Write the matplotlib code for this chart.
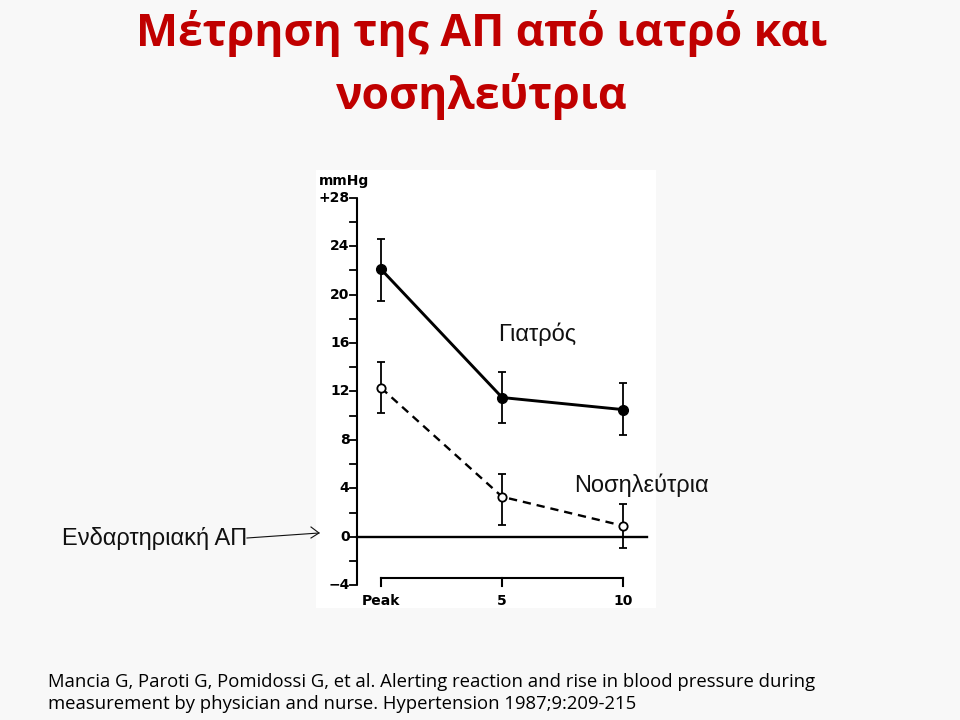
import matplotlib.pyplot as plt

# data (rise in BP, mmHg)
times = [0, 5, 10]
time_labels = ["Peak", "5", "10"]
doctor = [22.1, 11.5, 10.5]
doctor_lo = [19.5, 9.4, 8.4]
doctor_hi = [24.6, 13.6, 12.7]
nurse = [12.3, 3.3, 0.9]
nurse_lo = [10.2, 1.0, -0.9]
nurse_hi = [14.4, 5.2, 2.7]
y_ticks = list(range(-4, 29, 2))
y_labels = {-4: "\u22124", 0: "0", 4: "4", 8: "8", 12: "12", 16: "16",
            20: "20", 24: "24", 28: "+28"}

title = "Μέτρηση της ΑΠ από ιατρό και\nνοσηλεύτρια"
citation = ("Mancia G, Paroti G, Pomidossi G, et al. Alerting reaction and rise in blood pressure during\n"
            "measurement by physician and nurse. Hypertension 1987;9:209-215")

W, H = 960, 720
fig = plt.figure(figsize=(9.6, 7.2), dpi=100)
fig.patch.set_facecolor("#f8f8f8")

# slide text
fig.text(482 / W, 1 - 65 / H, title, ha="center", va="center", color="#c00000",
         fontsize=32, fontweight="bold", family="Open Sans", linespacing=1.47)
fig.text(48 / W, 1 - 693 / H, citation, ha="left", va="center", color="black",
         fontsize=13.3, family="Open Sans", linespacing=1.32)

# the scanned chart area
ax = fig.add_axes([316 / W, (H - 608) / H, 340 / W, 438 / H])
ax.set_facecolor("white")
ax.set_xlim(-2.683, 11.35)
ax.set_ylim(-5.89, 30.3)
for s in ax.spines.values():
    s.set_visible(False)
ax.set_xticks([])
ax.set_yticks([])

tick_font = dict(family="DejaVu Sans", fontweight="bold", fontsize=10, color="black")

# y axis
ax.plot([-1.0, -1.0], [-4, 28], color="black", lw=1.5, solid_capstyle="butt")
for t in y_ticks:
    ax.plot([-1.3, -1.0], [t, t], color="black", lw=1.3)
    if t in y_labels:
        ax.text(-1.3, t, y_labels[t], ha="right", va="center", **tick_font)
ax.text(-2.55, 29.4, "mmHg", ha="left", va="center", **tick_font)

# zero line
ax.plot([-1.0, 10.97], [0, 0], color="black", lw=1.7)

# x axis
ax.plot([0, 10], [-3.4, -3.4], color="black", lw=1.5)
for t, lab in zip(times, time_labels):
    ax.plot([t, t], [-3.4, -4.1], color="black", lw=1.5)
    ax.text(t, -5.3, lab, ha="center", va="center", **tick_font)

# doctor (solid, filled)
ax.errorbar(times, doctor,
            yerr=[[d - l for d, l in zip(doctor, doctor_lo)],
                  [h - d for d, h in zip(doctor, doctor_hi)]],
            color="black", lw=2.1, elinewidth=1.3, capsize=3, capthick=1.3,
            marker="o", markersize=7, markerfacecolor="black")

# nurse (dashed, open)
ax.errorbar(times, nurse,
            yerr=[[d - l for d, l in zip(nurse, nurse_lo)],
                  [h - d for d, h in zip(nurse, nurse_hi)]],
            color="black", lw=1.7, ls=(0, (3.5, 2.5)), elinewidth=1.3, capsize=3,
            capthick=1.3, marker="o", markersize=6, markerfacecolor="white",
            markeredgewidth=1.3, zorder=3)

# annotations
lab_font = dict(family="Liberation Sans", fontsize=17, color="#111111")
ax.text(4.85, 16.7, "Γιατρός", ha="left", va="center", **lab_font)
fig.text(574 / W, 1 - 485 / H, "Νοσηλεύτρια", ha="left", va="center",
         zorder=5, **lab_font)
fig.text(62 / W, 1 - 538 / H, "Ενδαρτηριακή ΑΠ", ha="left", va="center",
         **lab_font)
fig.add_artist(plt.Line2D([247 / W, 319 / W], [1 - 538 / H, 1 - 533 / H],
                          color="#111111", lw=0.8))
fig.add_artist(plt.Line2D([311 / W, 319 / W, 311 / W],
                          [1 - 527 / H, 1 - 533 / H, 1 - 538 / H],
                          color="#111111", lw=0.8))

fig.savefig("out.png", dpi=100, facecolor=fig.get_facecolor())
